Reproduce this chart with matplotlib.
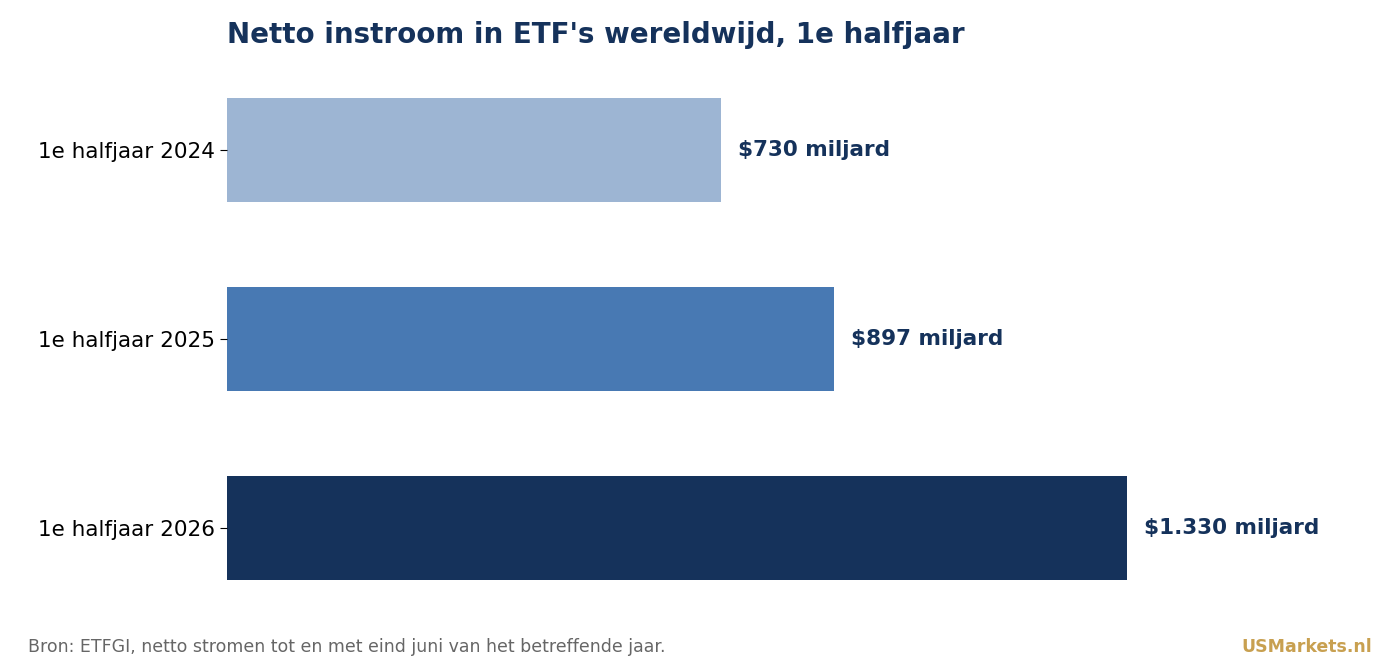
import matplotlib
matplotlib.use("Agg")
import matplotlib.pyplot as plt

categories = ["1e halfjaar 2024", "1e halfjaar 2025", "1e halfjaar 2026"]
values = [730, 897, 1330]
labels = ["$730 miljard", "$897 miljard", "$1.330 miljard"]
colors = ["#9db5d3", "#4879b3", "#15325b"]
NAVY = "#15325b"

fig = plt.figure(figsize=(14, 6.65), dpi=100)
ax = fig.add_axes([227 / 1400, 1 - 622.5 / 665, 1133 / 1400, 567 / 665])
ax.barh(categories, values, height=0.55, color=colors)
ax.set_ylim(2.5, -0.5)
ax.set_xlim(0, 1133 / (900 / 1330))
for i, (v, lab) in enumerate(zip(values, labels)):
    ax.text(v + 25, i, lab, va="center", ha="left", color=NAVY,
            fontsize=15.5, fontweight="bold")
for s in ax.spines.values():
    s.set_visible(False)
ax.set_xticks([])
ax.tick_params(axis="y", labelsize=15.5, length=5)

fig.text(227 / 1400, 1 - 35 / 665, "Netto instroom in ETF's wereldwijd, 1e halfjaar",
         color=NAVY, fontsize=20, fontweight="bold", va="center", ha="left")
fig.text(28 / 1400, 1 - 647 / 665,
         "Bron: ETFGI, netto stromen tot en met eind juni van het betreffende jaar.",
         color="#666666", fontsize=12.5, va="center", ha="left")
fig.text(1372 / 1400, 1 - 647 / 665, "USMarkets.nl", color="#c8a050",
         fontsize=12.5, fontweight="bold", va="center", ha="right")
fig.savefig("out.png")
